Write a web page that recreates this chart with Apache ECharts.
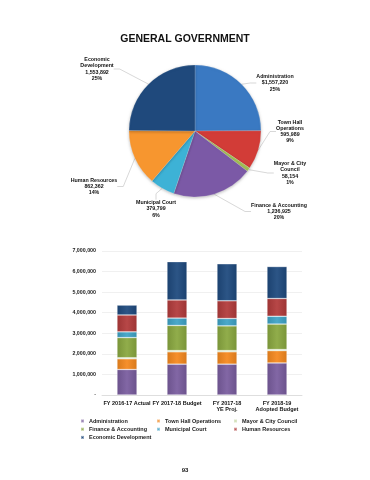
<!DOCTYPE html>
<html>
<head>
<meta charset="utf-8">
<script src="https://cdn.jsdelivr.net/npm/echarts@6/dist/echarts.min.js"></script>
<style>
html,body{margin:0;padding:0;background:#fff;}
#c{width:370px;height:480px;}
</style>
</head>
<body>
<div id="c"></div>
<script>
// ---- data ----
var departments = ['Administration','Town Hall Operations','Mayor & City Council','Finance & Accounting','Municipal Court','Human Resources','Economic Development'];
var pieLabelNames = ['Administration','Town Hall\nOperations','Mayor & City\nCouncil','Finance & Accounting','Municipal Court','Human Resources','Economic\nDevelopment'];
var pieValues = [1557220, 595989, 58154, 1236925, 379799, 862362, 1553892];
var pieShares = ['25%','9%','1%','20%','6%','14%','25%'];
var years = ['FY 2016-17 Actual','FY 2017-18 Budget','FY 2017-18\nYE Proj.','FY 2018-19\nAdopted Budget'];
var administration = [1240000, 1500000, 1500000, 1557220];
var townHall       = [520000, 600000, 600000, 595989];
var mayorCouncil   = [50000, 60000, 60000, 58154];
var finance        = [980000, 1220000, 1200000, 1236925];
var municipalCourt = [280000, 360000, 360000, 379799];
var humanResources = [820000, 880000, 860000, 862362];
var economicDev    = [480000, 1860000, 1800000, 1553892];
var yMax = 7000000, yStep = 1000000;

// ---- styling ----
var pieColors = ['#3a79c2','#d23c37','#a3c055','#7b59a6','#3db2d6','#f7962f','#1f497c'];
var barColors = ['#7a5d9f','#f5891f','#c5d8a0','#8aa840','#3fa4c7','#b23b3b','#1f4a7e'];
var barData = [administration, townHall, mayorCouncil, finance, municipalCourt, humanResources, economicDev];

function shade(hex, f){
  var n=parseInt(hex.slice(1),16), r=n>>16, g=(n>>8)&255, b=n&255;
  function c(v){ v = f>0 ? v+(255-v)*f : v*(1+f); return Math.max(0,Math.min(255,Math.round(v))); }
  return 'rgb('+c(r)+','+c(g)+','+c(b)+')';
}
function barGrad(hex){
  return new echarts.graphic.LinearGradient(0,0,1,0,[
    {offset:0,color:shade(hex,-0.12)},{offset:0.5,color:shade(hex,0.06)},{offset:1,color:shade(hex,-0.12)}]);
}

// label positions for pie labels (centre of each label block)
var pieLabelPos = [[275,83],[290,131.5],[290,173],[279,211.5],[156,209],[94,186.5],[97,69]];

var fontFam = 'Liberation Sans, Arial, sans-serif';
var series = [];
departments.forEach(function(d,i){
  series.push({
    name:d, type:'bar', stack:'total', barWidth:'40%',
    data: barData[i],
    itemStyle:{color:barGrad(barColors[i]), borderColor:'rgba(255,255,255,0.45)', borderWidth:0.6},
    emphasis:{disabled:true}
  });
});
series.push({
  type:'pie', name:'pie', center:[195,131], radius:66, startAngle:90, clockwise:true,
  data: departments.map(function(d,i){
    return {name:d, value:pieValues[i], itemStyle:{color:pieColors[i]}};
  }),
  itemStyle:{borderColor:'rgba(255,255,255,0.35)', borderWidth:0.5, shadowBlur:3, shadowColor:'rgba(0,0,0,0.25)', shadowOffsetY:1},
  label:{
    show:true, fontSize:5.3, fontWeight:'bold', color:'#111', fontFamily:fontFam, lineHeight:6.2, align:'center',
    formatter:function(p){
      var i=p.dataIndex;
      var v=(i===0?'$':'')+pieValues[i].toLocaleString('en-US');
      return pieLabelNames[i]+'\n'+v+'\n'+pieShares[i];
    }
  },
  labelLine:{show:true, length:6, length2:6, lineStyle:{color:'#bdbdbd', width:0.6}},
  labelLayout:function(p){
    var pos=pieLabelPos[p.dataIndex];
    return {x:pos[0], y:pos[1], align:'center', verticalAlign:'middle'};
  },
  emphasis:{disabled:true}
});

var legTxt = {fontSize:5.5, fontWeight:'bold', color:'#222', fontFamily:fontFam};
function leg(left, names){
  return {orient:'vertical', left:left, top:418, padding:0, itemWidth:3, itemHeight:3, itemGap:2.2, icon:'rect',
    textStyle:legTxt, data:names, selectedMode:false};
}

var chart = echarts.init(document.getElementById('c'), null, {renderer:'canvas'});
chart.setOption({
  animation:false,
  backgroundColor:'#fff',
  title:[
    {text:'GENERAL GOVERNMENT', left:'center', top:29, textStyle:{fontSize:10.5, fontWeight:'bold', color:'#111', fontFamily:fontFam}},
    {text:'93', left:'center', top:462, textStyle:{fontSize:6, fontWeight:'bold', color:'#111', fontFamily:fontFam}}
  ],
  legend:[
    leg(80, [departments[0], departments[3], departments[6]]),
    leg(156, [departments[1], departments[4]]),
    leg(233, [departments[2], departments[5]])
  ],
  grid:{left:102, right:68, top:251, bottom:85, containLabel:false},
  xAxis:{
    type:'category', data:years,
    axisLine:{lineStyle:{color:'#d9d9d9', width:0.8}},
    axisTick:{show:false},
    axisLabel:{interval:0, fontSize:5.5, fontWeight:'bold', color:'#111', fontFamily:fontFam, margin:5, lineHeight:6.5}
  },
  yAxis:{
    type:'value', min:0, max:yMax, interval:yStep,
    axisLine:{show:false}, axisTick:{show:false},
    splitLine:{lineStyle:{color:'#e6e6e6', width:0.6}},
    axisLabel:{fontSize:5.3, fontWeight:'bold', color:'#222', fontFamily:fontFam, margin:6,
      formatter:function(v){ return v===0 ? '-' : v.toLocaleString('en-US'); }}
  },
  series:series
});
</script>
</body>
</html>
